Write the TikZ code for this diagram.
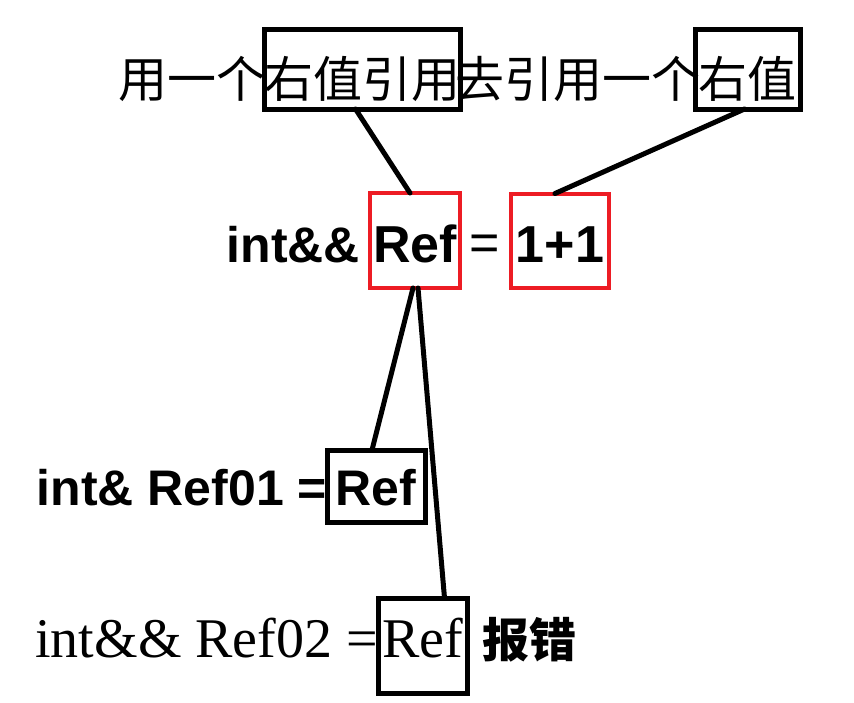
\documentclass[tikz,border=0pt]{standalone}
\usepackage{fontspec}
\setmainfont{Liberation Serif}
\setsansfont{Liberation Sans}
\newfontfamily\cjk{Noto Sans CJK SC}
\usetikzlibrary{calc}
\definecolor{pred}{RGB}{237,28,36}
\begin{document}
\begin{tikzpicture}[x=1pt,y=-1pt,
  blackbox/.style={draw=black,line width=5pt,inner sep=0pt,outer sep=0pt,anchor=base},
  redbox/.style={draw=pred,line width=4pt,inner sep=0pt,outer sep=0pt,anchor=base},
  plain/.style={inner sep=0pt,outer sep=0pt},
  topfont/.style={font=\cjk\fontsize{49pt}{56pt}\selectfont},
  midfont/.style={font=\sffamily\bfseries\fontsize{50pt}{60pt}\selectfont},
  midbig/.style={font=\sffamily\bfseries\fontsize{52pt}{60pt}\selectfont},
  lowfont/.style={font=\sffamily\bfseries\fontsize{50pt}{58pt}\selectfont},
  serfont/.style={font=\rmfamily\fontsize{56pt}{64pt}\selectfont},
  conn/.style={line width=5pt,line cap=round}]
\useasboundingbox (0,0) rectangle (854,702);

% top row
\node[blackbox,topfont,minimum width=195pt,minimum height=80pt,text height=60pt,text depth=4pt] (b1) at (362.5,97) {右值引用};
\node[blackbox,topfont,minimum width=105pt,minimum height=80pt,text height=60pt,text depth=4pt] (b2) at (747.5,97) {右值};
\node[plain,topfont,anchor=base east] (t1) at (265,97) {用一个};
\node[plain,topfont,anchor=base] (t2) at (577.5,97) {去引用一个};

% second row
\node[redbox,midbig,minimum width=90pt,minimum height=95pt,text height=45pt,text depth=2pt] (r1) at (415,262) {Ref};
\node[redbox,midbig,minimum width=98pt,minimum height=94pt,text height=45pt,text depth=2pt] (r2) at (560,262) {1+1};
\node[plain,midfont,anchor=base east] (m1) at (360,262) {int\&\&};
\node[plain,font=\sffamily\fontsize{52pt}{60pt}\selectfont,anchor=base] (m2) at (485,260) {=};

% third row
\node[blackbox,lowfont,minimum width=98pt,minimum height=72pt,text height=40pt,text depth=2pt] (k1) at (376,505) {Ref};
\node[plain,lowfont,anchor=base east] (l1) at (327,505) {int\& Ref01 =};

% fourth row
\node[blackbox,serfont,minimum width=89pt,minimum height=95pt,text height=36pt,text depth=13pt] (k2) at (422.5,657) {Ref};
\node[plain,serfont,anchor=base east] (s1) at (378,657) {int\&\& Ref02 =};
\node[plain,font=\cjk\bfseries\fontsize{47pt}{56pt}\selectfont,anchor=base west] (s2) at (482,657) {报错};

% connectors
\draw[conn] ($(b1.south)+(-7,0)$) -- ($(r1.north)+(-5,0)$);
\draw[conn] ($(b2.south)+(-3,0)$) -- ($(r2.north)+(-5,0)$);
\draw[conn] ($(r1.south)+(-2,0)$) -- ($(k1.north)+(-4,0)$);
\draw[conn] ($(r1.south)+(3,0)$) -- ($(k2.north)+(22,0)$);
\end{tikzpicture}
\end{document}
